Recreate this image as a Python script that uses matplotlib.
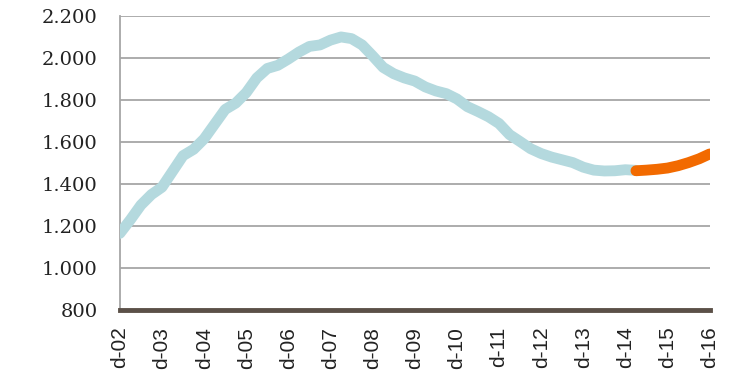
import numpy as np
import matplotlib
matplotlib.use("Agg")
from matplotlib import pyplot as plt
from matplotlib.ticker import FuncFormatter

# quarterly positions, in years after Dec 2002
hist_t = np.arange(0, 12.26, 0.25)
hist_values = [
    1165, 1230, 1300, 1350, 1385, 1460, 1535, 1565, 1615, 1685,
    1755, 1785, 1835, 1905, 1950, 1965, 1995, 2028, 2055, 2062,
    2085, 2100, 2092, 2062, 2010, 1955, 1925, 1905, 1890, 1862,
    1843, 1830, 1805, 1768, 1745, 1720, 1688, 1635, 1602, 1568,
    1545, 1528, 1515, 1502, 1480, 1466, 1462, 1463, 1468, 1465,
]
fcst_t = np.arange(12.25, 14.01, 0.25)
fcst_values = [1463, 1466, 1470, 1476, 1487, 1502, 1520, 1543]

tick_labels = ["d-02", "d-03", "d-04", "d-05", "d-06", "d-07", "d-08", "d-09",
               "d-10", "d-11", "d-12", "d-13", "d-14", "d-15", "d-16"]
y_ticks = [800, 1000, 1200, 1400, 1600, 1800, 2000, 2200]

BLUE = "#b4d9de"
ORANGE = "#f26a00"
GRID = "#a6a6a6"
BASE = "#5b5048"

fig = plt.figure(figsize=(7.4, 3.89), dpi=100)
ax = fig.add_axes([0.162, 0.203, 0.797, 0.756])

ax.plot(hist_t, hist_values, color=BLUE, lw=7.8, solid_capstyle="round",
        solid_joinstyle="round", zorder=3)
ax.plot(fcst_t, fcst_values, color=ORANGE, lw=7.8, solid_capstyle="round",
        solid_joinstyle="round", zorder=4)

ax.set_xlim(0, 14)
ax.set_ylim(800, 2200)
ax.set_yticks(y_ticks)
ax.yaxis.set_major_formatter(FuncFormatter(lambda v, p: f"{int(v):,}".replace(",", ".")))
ax.set_xticks(range(len(tick_labels)))
ax.set_xticklabels(tick_labels, rotation=90, family="Liberation Sans", fontsize=15)
for lab in ax.get_yticklabels():
    lab.set_family("DejaVu Serif")
    lab.set_fontsize(14)

ax.grid(axis="y", color=GRID, lw=1.3, zorder=1)
ax.set_axisbelow(True)
ax.tick_params(axis="both", length=0, colors="#222222")
ax.tick_params(axis="y", pad=16)
ax.tick_params(axis="x", pad=12)

for side in ["top", "right"]:
    ax.spines[side].set_visible(False)
ax.spines["left"].set_color(GRID)
ax.spines["left"].set_linewidth(1.3)
ax.spines["bottom"].set_color(BASE)
ax.spines["bottom"].set_linewidth(3.5)
ax.spines["bottom"].set_zorder(5)

fig.savefig("out.png", dpi=100)
